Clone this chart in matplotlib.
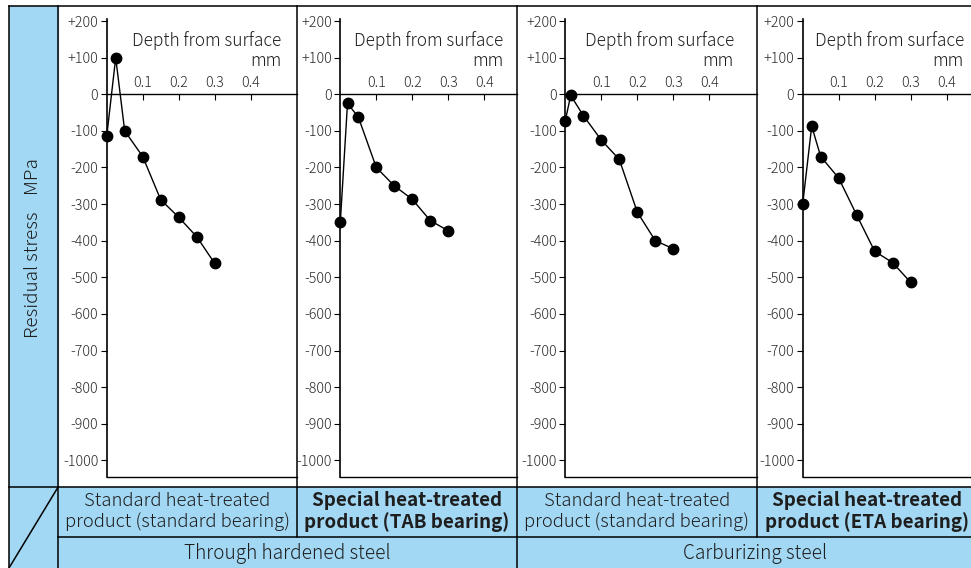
import matplotlib
matplotlib.use('Agg')
import matplotlib.pyplot as plt
from matplotlib.patches import Rectangle

plt.rcParams['font.family'] = ['Noto Sans CJK JP', 'DejaVu Sans']

# depth from surface (mm) and residual stress (MPa) for each panel
depth_1 = [0.0, 0.025, 0.05, 0.1, 0.15, 0.2, 0.25, 0.3]
stress_1 = [-115, 100, -100, -170, -288, -336, -389, -462]

depth_2 = [0.0, 0.02, 0.05, 0.1, 0.15, 0.2, 0.25, 0.3]
stress_2 = [-350, -25, -62, -200, -250, -287, -345, -373]

depth_3 = [0.0, 0.015, 0.05, 0.1, 0.15, 0.2, 0.25, 0.3]
stress_3 = [-72, -3, -58, -125, -178, -322, -400, -422]

depth_4 = [0.0, 0.025, 0.05, 0.1, 0.15, 0.2, 0.25, 0.3]
stress_4 = [-300, -87, -170, -229, -330, -429, -460, -514]

y_ticks = [200, 100, 0, -100, -200, -300, -400, -500, -600, -700, -800, -900, -1000]
y_tick_labels = ['+200', '+100', '0', '-100', '-200', '-300', '-400', '-500',
                 '-600', '-700', '-800', '-900', '-1000']
x_ticks = [0.1, 0.2, 0.3, 0.4]
x_tick_labels = ['0.1', '0.2', '0.3', '0.4']

products = ['Standard heat-treated\nproduct (standard bearing)',
            'Special heat-treated\nproduct (TAB bearing)',
            'Standard heat-treated\nproduct (standard bearing)',
            'Special heat-treated\nproduct (ETA bearing)']
product_bold = [False, True, False, True]
steels = ['Through hardened steel', 'Carburizing steel']

W, H = 971, 568
BLUE = '#a3d8f4'
TXT = '#1e1e1e'
LIGHT = 'light'

fig = plt.figure(figsize=(W / 100, H / 100), dpi=100)
fig.patch.set_facecolor('white')

# layout in pixels
axis_x = [106.7, 340.3, 565.3, 802.7]
panel_x = [58.3, 296.7, 517.0, 756.7, 971.0]
top_px, bot_px = 19.0, 476.7
zero_px = 94.3
px_per_100 = 36.6
px_per_mm = 360.0
label_x = [281, 503, 734, 964]

ymax = (zero_px - top_px) / px_per_100 * 100
ymin = (zero_px - bot_px) / px_per_100 * 100

data = [(depth_1, stress_1), (depth_2, stress_2), (depth_3, stress_3), (depth_4, stress_4)]

for i, (d, s) in enumerate(data):
    x0 = axis_x[i]
    xr = panel_x[i + 1]
    ax = fig.add_axes([x0 / W, 1 - bot_px / H, (xr - x0) / W, (bot_px - top_px) / H])
    ax.patch.set_alpha(0)
    ax.set_xlim(0, (xr - x0) / px_per_mm)
    ax.set_ylim(ymin, ymax)
    ax.plot(d, s, color='black', lw=1.0, marker='o', ms=7.5, mfc='black', mec='black',
            clip_on=False, zorder=5)
    ax.spines['right'].set_visible(False)
    ax.spines['top'].set_position(('data', 0))
    for sp in ax.spines.values():
        sp.set_linewidth(1.0)
        sp.set_color('black')
    ax.spines['left'].set_linewidth(1.2)
    ax.xaxis.set_ticks_position('top')
    ax.set_xticks(x_ticks)
    ax.set_xticklabels(x_tick_labels, fontweight=LIGHT)
    ax.tick_params(axis='x', direction='in', length=4, width=0.8, pad=3,
                   labelsize=10.3, labelcolor='#2a2a2a')
    ax.set_yticks(y_ticks)
    ax.set_yticklabels(y_tick_labels, fontweight=LIGHT)
    ax.tick_params(axis='y', direction='out', length=4, width=0.8, pad=2,
                   labelsize=10.3, labelcolor='#2a2a2a')

# overlay for borders and table text
ov = fig.add_axes([0, 0, 1, 1], zorder=10)
ov.set_xlim(0, W)
ov.set_ylim(H, 0)
ov.axis('off')
ov.patch.set_alpha(0)

table_top = 486.7
row2_top = 537.0

# blue areas behind everything
fig.patches.append(Rectangle((9 / W, 0), (58.3 - 9) / W, 1 - 6 / H,
                             transform=fig.transFigure, color=BLUE, zorder=-5))
fig.patches.append(Rectangle((58.3 / W, 0), 1, 1 - table_top / H,
                             transform=fig.transFigure, color=BLUE, zorder=-5))

lk = dict(color='black', lw=1.1)
ov.plot([9, W], [6, 6], **lk)
ov.plot([9, 9], [6, H], **lk)
ov.plot([58.3, 58.3], [6, H], **lk)
for xp in [296.7, 756.7]:
    ov.plot([xp, xp], [6, row2_top], **lk)
ov.plot([517.0, 517.0], [6, H], **lk)
ov.plot([9, W], [table_top, table_top], **lk)
ov.plot([58.3, W], [row2_top, row2_top], **lk)
ov.plot([58.3, 9], [table_top, H], **lk)

# axis titles
for i in range(4):
    ov.text(label_x[i], 41, 'Depth from surface', ha='right', va='center',
            fontsize=12.4, color=TXT, fontweight=LIGHT)
    ov.text(label_x[i], 61, 'mm', ha='right', va='center', fontsize=12.4, color=TXT,
            fontweight=LIGHT)

ov.text(33.5, 248, 'Residual stress    MPa', rotation=90, ha='center', va='center',
        fontsize=13.6, color=TXT, fontweight=LIGHT)

prod_cx = [177.5, 407.0, 637.0, 867.0]
for i, p in enumerate(products):
    ov.text(prod_cx[i], 511.5, p, ha='center', va='center',
            fontsize=13.6 if product_bold[i] else 13.3,
            color=TXT, fontweight='bold' if product_bold[i] else LIGHT,
            linespacing=1.12)

ov.text(287.5, 553, steels[0], ha='center', va='center', fontsize=13.7, color=TXT,
        fontweight=LIGHT)
ov.text(755.0, 553, steels[1], ha='center', va='center', fontsize=13.7, color=TXT,
        fontweight=LIGHT)

fig.savefig('out.png', dpi=100)
